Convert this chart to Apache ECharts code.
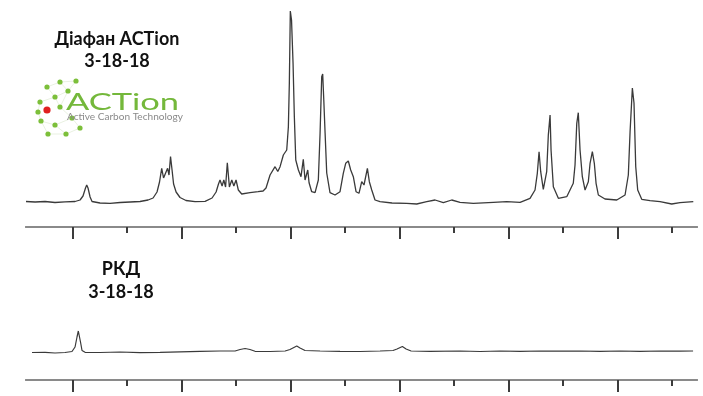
<!DOCTYPE html>
<html>
<head>
<meta charset="utf-8">
<script src="https://cdn.jsdelivr.net/npm/echarts@6/dist/echarts.min.js"></script>
<style>
html,body{margin:0;padding:0;background:#fff;}
#chart{width:703px;height:396px;}
</style>
</head>
<body>
<div id="chart"></div>
<script>
// chemical shift (ppm) / intensity pairs
const topSpectrum = [
[6.427,0.25],[6.344,0],[6.252,0.25],[6.161,-0.25],[6.069,0.1],[5.977,0.25],[5.931,1],[5.904,3],[5.881,7],[5.870,8.5],[5.858,7],[5.839,2.5],[5.821,0.25],
[5.748,-0.5],[5.656,-0.65],[5.564,-0.25],[5.472,0],[5.381,0.25],[5.307,1],[5.261,2],[5.225,5],[5.202,10],[5.182,16.85],[5.165,12],[5.151,11],[5.128,16.85],
[5.115,13.5],[5.101,22.75],[5.087,16],[5.073,9],[5.050,5],[5.014,2.25],[4.959,0.75],[4.876,0.15],[4.784,0.35],[4.720,2],[4.683,5],[4.661,9],[4.647,11],
[4.628,8],[4.612,11],[4.596,7.5],[4.580,19.65],[4.561,7.5],[4.539,11],[4.520,8],[4.500,11],[4.479,6],[4.448,4],[4.372,4.65],[4.298,5.15],[4.252,5.5],
[4.225,7],[4.188,13.5],[4.142,17.65],[4.117,15.25],[4.096,17.65],[4.066,23.5],[4.035,26],[4.020,37.5],[4.011,59.5],[4.002,95.5],[3.991,91],[3.977,69.5],
[3.965,42.5],[3.952,21],[3.928,16],[3.904,12.65],[3.883,21.35],[3.867,11],[3.842,16],[3.830,9.65],[3.806,5.15],[3.775,4.65],[3.745,11],[3.729,34.5],
[3.714,62.65],[3.705,64],[3.695,51],[3.683,34.5],[3.668,14.5],[3.638,4.65],[3.592,3.5],[3.546,5.15],[3.516,14.35],[3.494,19.35],[3.470,20.5],[3.448,16],
[3.424,12.65],[3.399,5.15],[3.372,4.35],[3.347,10.15],[3.326,8.5],[3.295,16.85],[3.277,10.15],[3.255,6],[3.225,1],[3.179,0.15],[3.069,-0.5],[2.934,-0.65],
[2.842,-1],[2.750,0.15],[2.674,1],[2.598,-0.35],[2.521,1],[2.445,-0.15],[2.323,-0.65],[2.139,-0.15],[2.017,0.15],[1.894,-0.15],[1.803,1.85],[1.757,6],
[1.736,14.35],[1.720,25.15],[1.705,15.15],[1.681,6.35],[1.650,15.15],[1.635,33.5],[1.619,43.5],[1.610,26],[1.589,7.65],[1.543,1.85],[1.466,2.65],
[1.406,9.35],[1.390,18.5],[1.374,39.35],[1.360,44.65],[1.344,26],[1.323,12.65],[1.298,6],[1.268,10.15],[1.252,19.35],[1.231,25.15],[1.213,19.35],
[1.197,9.35],[1.176,3.5],[1.115,1.5],[1.007,1],[0.931,3.5],[0.901,13.5],[0.885,35.15],[0.864,57],[0.849,49.5],[0.833,17.65],[0.815,6],[0.778,1.35],
[0.702,0.65],[0.610,0.15],[0.503,-1],[0.427,-0.35],[0.305,0.15]
];
const bottomSpectrum = [
[6.372,-0.25],[6.252,-0.15],[6.161,-0.5],[6.069,-0.25],[6.005,0.25],[5.977,2.5],[5.959,7.5],[5.947,10.5],[5.936,9.5],[5.927,5],[5.913,0.75],[5.885,-0.15],
[5.748,-0.25],[5.564,0],[5.381,-0.35],[5.197,-0.15],[5.014,0.1],[4.830,0.35],[4.647,0.5],[4.509,0.5],[4.463,1.25],[4.417,1.75],[4.372,1.25],[4.326,0.35],
[4.188,0.25],[4.050,0.5],[4.005,1.25],[3.943,3],[3.913,2],[3.867,0.75],[3.729,0.5],[3.546,0.35],[3.362,0.25],[3.179,0.5],[3.060,0.75],[3.023,1.5],
[2.974,2.75],[2.940,1.5],[2.894,0.5],[2.720,0.35],[2.445,0.5],[2.261,0.25],[2.078,0.5],[1.894,0.35],[1.711,0.5],[1.528,0.4],[1.344,0.5],[1.161,0.35],
[0.977,0.5],[0.794,0.35],[0.610,0.5],[0.427,0.4],[0.307,0.5]
];
const majorTicks = [6, 5, 4, 3, 2, 1];
const minorTicks = [5.5, 4.5, 3.5, 2.5, 1.5, 0.5];
const ppmRange = [0.271, 6.427];
const topLabel = ['Діафан ACTion', '3-18-18'];
const bottomLabel = ['РКД', '3-18-18'];
const logoWord = 'ACTion';
const logoTagline = 'Active Carbon Technology';

const chart = echarts.init(document.getElementById('chart'), null, {renderer: 'canvas'});

function xAx(gridIndex, ticks, len) {
  return {
    type: 'value', gridIndex: gridIndex, position: 'bottom', inverse: true,
    min: ppmRange[0], max: ppmRange[1],
    axisLine: {show: true, onZero: false, lineStyle: {color: '#8a8a8a', width: 2}},
    axisTick: {show: true, customValues: ticks, length: len, lineStyle: {color: '#3c3c3c', width: 2}},
    axisLabel: {show: false, customValues: ticks},
    splitLine: {show: false}
  };
}

const font = 'bold 18px Lato';
function txt(x, y, s) {
  return {type: 'text', x: x, y: y, style: {text: s, font: font, fill: '#111', align: 'center', verticalAlign: 'middle'}};
}

// logo dots
const dots = [[47,87],[60,82],[76,81],[68,91],[55,97],[40,102],[60,107],[41,121],[55,125],[66,134],[80,128],[72,118],[38,112],[48,134]];
const links = [[0,1],[1,2],[0,4],[1,3],[2,3],[3,4],[4,5],[4,6],[5,12],[12,7],[7,8],[8,9],[9,10],[10,11],[11,6],[6,3],[8,11],[7,13],[13,9]];
const logoEls = [];
links.forEach(l => {
  logoEls.push({type: 'line', shape: {x1: dots[l[0]][0], y1: dots[l[0]][1], x2: dots[l[1]][0], y2: dots[l[1]][1]}, style: {stroke: '#e3eed9', lineWidth: 0.8}});
});
dots.forEach(d => {
  logoEls.push({type: 'circle', shape: {cx: d[0], cy: d[1], r: 2.6}, style: {fill: '#7cbf3a'}});
});
logoEls.push({type: 'circle', shape: {cx: 47, cy: 110, r: 3.6}, style: {fill: '#e02020'}});
logoEls.push({type: 'text', x: 66, y: 103, scaleX: 1.5, originX: 0, originY: 0,
  style: {text: logoWord, font: '23px Lato', fill: '#74b83b', align: 'left', verticalAlign: 'middle'}});
logoEls.push({type: 'text', x: 67, y: 117, scaleX: 1.12, originX: 0, originY: 0,
  style: {text: logoTagline, font: '9px Lato', fill: '#8a8a8a', align: 'left', verticalAlign: 'middle'}});

const option = {
  animation: false,
  backgroundColor: '#ffffff',
  grid: [
    {left: 26, right: 6, top: 10, bottom: 169},
    {left: 26, right: 6, top: 290, bottom: 16}
  ],
  xAxis: [xAx(0, majorTicks, 12), xAx(0, minorTicks, 6), xAx(1, majorTicks, 12), xAx(1, minorTicks, 6)],
  yAxis: [
    {type: 'value', gridIndex: 0, min: -12.5, max: 96, show: false},
    {type: 'value', gridIndex: 1, min: -14, max: 31, show: false}
  ],
  series: [
    {type: 'line', xAxisIndex: 0, yAxisIndex: 0, data: topSpectrum, showSymbol: false, lineStyle: {color: '#3a3a3a', width: 1.3}},
    {type: 'line', xAxisIndex: 2, yAxisIndex: 1, data: bottomSpectrum, showSymbol: false, lineStyle: {color: '#3a3a3a', width: 1.2}}
  ],
  graphic: [
    txt(117, 39, topLabel[0]), txt(117, 61, topLabel[1]),
    txt(121, 269, bottomLabel[0]), txt(121, 292, bottomLabel[1]),
    {type: 'group', children: logoEls}
  ]
};
chart.setOption(option);
</script>
</body>
</html>
